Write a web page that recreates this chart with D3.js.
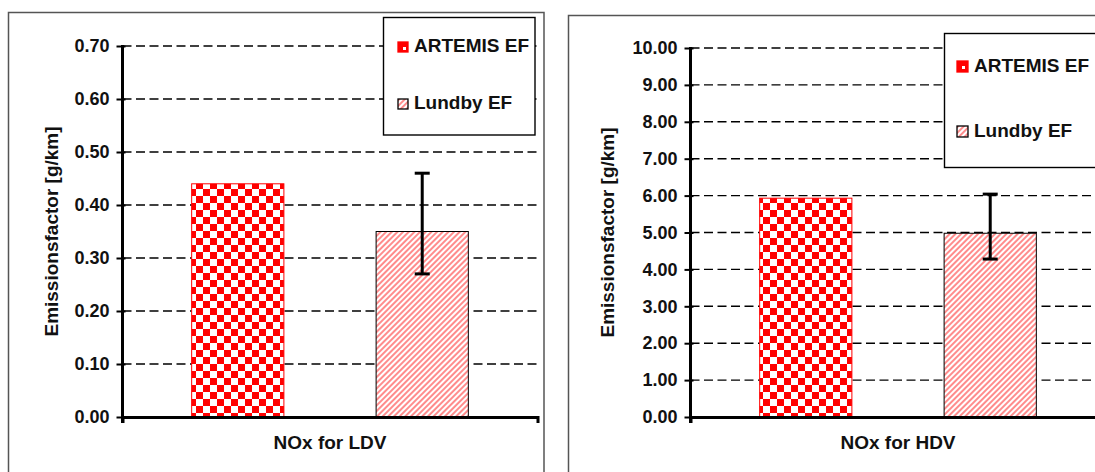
<!DOCTYPE html>
<html><head><meta charset="utf-8">
<script src="https://cdn.jsdelivr.net/npm/d3@7"></script>
<style>
body{margin:0;background:#fff}
svg{display:block}
text{font-family:"Liberation Sans",Arial,sans-serif;fill:#111}
</style>
</head><body>
<svg id="c" width="1095" height="472"></svg>
<script>
// ---------- data ----------
const series = ["ARTEMIS EF", "Lundby EF"];
const yTitle = "Emissionsfactor [g/km]";

const ldvCategory = "NOx for LDV";
const ldvValues = [0.44, 0.35];
const ldvErrLow = [null, 0.27];
const ldvErrHigh = [null, 0.46];
const ldvTicks = [0, 0.1, 0.2, 0.3, 0.4, 0.5, 0.6, 0.7];

const hdvCategory = "NOx for HDV";
const hdvValues = [5.93, 4.98];
const hdvErrLow = [null, 4.28];
const hdvErrHigh = [null, 6.04];
const hdvTicks = [0, 1, 2, 3, 4, 5, 6, 7, 8, 9, 10];

// ---------- drawing ----------
const svg = d3.select("#c");
const defs = svg.append("defs");

const checker = defs.append("pattern").attr("id", "checker")
  .attr("patternUnits", "userSpaceOnUse").attr("width", 14).attr("height", 14);
checker.append("rect").attr("width", 14).attr("height", 14).attr("fill", "#fff");
checker.append("rect").attr("width", 7).attr("height", 7).attr("fill", "#ff0000");
checker.append("rect").attr("x", 7).attr("y", 7).attr("width", 7).attr("height", 7).attr("fill", "#ff0000");

const checkerSmall = defs.append("pattern").attr("id", "checkerSmall")
  .attr("patternUnits", "userSpaceOnUse").attr("width", 10).attr("height", 10);
checkerSmall.append("rect").attr("width", 10).attr("height", 10).attr("fill", "#ff0000");
checkerSmall.append("rect").attr("x", 5).attr("y", 5).attr("width", 3).attr("height", 3).attr("fill", "#fff");

const hatch = defs.append("pattern").attr("id", "hatch")
  .attr("patternUnits", "userSpaceOnUse").attr("width", 4).attr("height", 4)
  .attr("patternTransform", "rotate(45)");
hatch.append("rect").attr("width", 4).attr("height", 4).attr("fill", "#fff");
hatch.append("rect").attr("width", 2).attr("height", 4).attr("fill", "#ff8c8c");

const fills = ["url(#checker)", "url(#hatch)"];
const strokes = ["#ff0000", "#000"];
const swatchFills = ["url(#checkerSmall)", "url(#hatch)"];

function panel(cfg, category, values, errLow, errHigh, ticks) {
  const g = svg.append("g");
  const y = d3.scaleLinear().domain([0, d3.max(ticks)]).range([cfg.bottom, cfg.top]);
  const x0 = d3.scaleBand().domain([category]).range([cfg.left, cfg.left + cfg.width]);
  const x1 = d3.scaleBand().domain(series).range([0, x0.bandwidth()])
    .paddingInner(0.5).paddingOuter(0.375);

  // outer frame
  g.append("rect").attr("x", cfg.frame[0]).attr("y", cfg.frame[1])
    .attr("width", cfg.frame[2]).attr("height", cfg.frame[3])
    .attr("fill", "none").attr("stroke", "#555").attr("stroke-width", 1.5);

  // gridlines
  g.selectAll("line.grid").data(ticks.filter(t => t > 0)).join("line")
    .attr("class", "grid")
    .attr("x1", cfg.left).attr("x2", cfg.left + cfg.width)
    .attr("y1", d => y(d)).attr("y2", d => y(d))
    .attr("stroke", "#000").attr("stroke-width", 1.4).attr("stroke-dasharray", "9,4.5");

  const data = series.map((s, i) => ({s, i, v: values[i], lo: errLow[i], hi: errHigh[i]}));

  // bars
  g.selectAll("rect.bar").data(data).join("rect")
    .attr("class", "bar")
    .attr("x", d => x0(category) + x1(d.s))
    .attr("width", x1.bandwidth())
    .attr("y", d => y(d.v))
    .attr("height", d => y(0) - y(d.v))
    .attr("fill", d => fills[d.i])
    .attr("stroke", d => strokes[d.i]).attr("stroke-width", 1);

  // error bars
  const eb = data.filter(d => d.lo != null);
  const cx = d => x0(category) + x1(d.s) + x1.bandwidth() / 2;
  g.selectAll("line.ev").data(eb).join("line")
    .attr("x1", cx).attr("x2", cx).attr("y1", d => y(d.lo)).attr("y2", d => y(d.hi))
    .attr("stroke", "#000").attr("stroke-width", 3);
  ["lo", "hi"].forEach(k => {
    g.selectAll("line.cap" + k).data(eb).join("line")
      .attr("x1", d => cx(d) - 7.5).attr("x2", d => cx(d) + 7.5)
      .attr("y1", d => y(d[k])).attr("y2", d => y(d[k]))
      .attr("stroke", "#000").attr("stroke-width", 3);
  });

  // y axis
  const ya = g.append("g").attr("transform", `translate(${cfg.left},0)`)
    .call(d3.axisLeft(y).tickValues(ticks).tickFormat(d3.format(".2f"))
      .tickSizeInner(6).tickSizeOuter(0).tickPadding(7));
  ya.select(".domain").remove();
  ya.selectAll(".tick line").attr("x1", 3).attr("x2", -6).attr("stroke", "#000").attr("stroke-width", 2);
  ya.selectAll(".tick text").attr("font-size", 18).attr("font-weight", "bold")
    .attr("font-family", "Liberation Sans, Arial, sans-serif").attr("fill", "#111");
  ya.append("line").attr("x1", 0).attr("x2", 0).attr("y1", cfg.top - 1).attr("y2", cfg.bottom + 6)
    .attr("stroke", "#000").attr("stroke-width", 3);

  // x axis
  const xa = g.append("g").attr("transform", `translate(0,${cfg.bottom})`)
    .call(d3.axisBottom(x0).tickSizeInner(0).tickSizeOuter(6).tickPadding(19));
  xa.select(".domain").attr("stroke", "#000").attr("stroke-width", 3).attr("fill", "none");
  xa.selectAll(".tick text").attr("font-size", 19).attr("font-weight", "bold")
    .attr("font-family", "Liberation Sans, Arial, sans-serif").attr("fill", "#111");

  // y title
  g.append("text")
    .attr("transform", `translate(${cfg.yTitleX},${(cfg.top + cfg.bottom) / 2}) rotate(-90)`)
    .attr("text-anchor", "middle").attr("font-size", 19).attr("font-weight", "bold")
    .text(yTitle);

  // legend
  const L = cfg.legend;
  g.append("rect").attr("x", L.x).attr("y", L.y).attr("width", L.w).attr("height", L.h)
    .attr("fill", "#fff").attr("stroke", "#000").attr("stroke-width", 1.4);
  const items = g.selectAll("g.li").data(data).join("g")
    .attr("transform", d => `translate(${L.sx},${L.rows[d.i]})`);
  items.append("rect").attr("width", L.ss).attr("height", L.ss)
    .attr("fill", d => swatchFills[d.i])
    .attr("stroke", d => strokes[d.i]).attr("stroke-width", 1.3);
  items.append("text").attr("x", L.tx - L.sx).attr("y", L.ss)
    .attr("font-size", 19).attr("font-weight", "bold").text(d => d.s);
}

panel({
  frame: [8.5, 12.5, 535.5, 480],
  left: 122.5, top: 46, bottom: 417, width: 415,
  yTitleX: 58,
  legend: {x: 383.5, y: 17.5, w: 151.5, h: 117.5, sx: 398, ss: 10, tx: 414, rows: [42, 99]}
}, ldvCategory, ldvValues, ldvErrLow, ldvErrHigh, ldvTicks);

panel({
  frame: [568.5, 15.5, 600, 480],
  left: 690.5, top: 48, bottom: 417, width: 415,
  yTitleX: 614,
  legend: {x: 944.5, y: 33.5, w: 200, h: 134, sx: 957, ss: 11, tx: 974, rows: [61, 126]}
}, hdvCategory, hdvValues, hdvErrLow, hdvErrHigh, hdvTicks);
</script>
</body></html>
